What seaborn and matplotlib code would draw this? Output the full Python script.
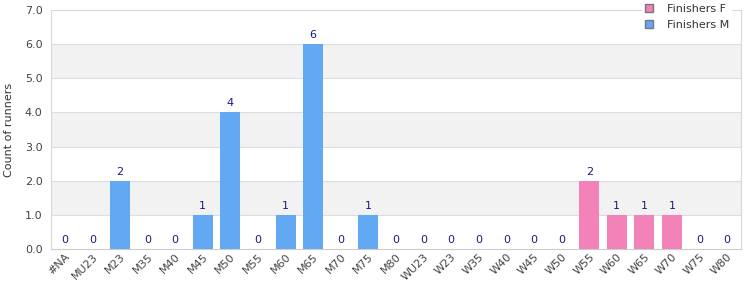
import matplotlib
matplotlib.use("Agg")
import matplotlib.pyplot as plt
import seaborn as sns
import pandas as pd
from matplotlib.patches import Patch
from matplotlib.ticker import FormatStrFormatter, MultipleLocator

categories = ["#NA", "MU23", "M23", "M35", "M40", "M45", "M50", "M55", "M60", "M65",
              "M70", "M75", "M80", "WU23", "W23", "W35", "W40", "W45", "W50", "W55",
              "W60", "W65", "W70", "W75", "W80"]
values = [0, 0, 2, 0, 0, 1, 4, 0, 1, 6, 0, 1, 0, 0, 0, 0, 0, 0, 0, 2, 1, 1, 1, 0, 0]
series = ["Finishers M"] * 19 + ["Finishers F"] * 6

blue = "#62a8f2"
pink = "#f282b8"
label_color = "#1a1a80"

df = pd.DataFrame({"cat": categories, "count": values, "series": series})

sns.set_style("white")
plt.rcParams['font.family'] = ['DejaVu Sans']

fig = plt.figure(figsize=(7.5, 3), dpi=100)
ax = fig.add_axes([0.068, 0.17, 0.92, 0.797])

# alternating bands
for i in range(7):
    if i % 2 == 1:
        ax.axhspan(i, i + 1, color="#f2f2f2", zorder=0, lw=0)
for y in range(1, 7):
    ax.axhline(y, color="#dddddd", lw=0.8, zorder=0.5)

sns.barplot(data=df, x="cat", y="count", hue="series", dodge=False, width=0.72,
            palette={"Finishers M": blue, "Finishers F": pink}, ax=ax,
            order=categories, legend=False, saturation=1, zorder=2,
            linewidth=0, edgecolor="none")

for i, v in enumerate(values):
    ax.text(i, v + 0.12, str(v), ha="center", va="bottom", fontsize=8,
            color=label_color, zorder=3)

ax.set_ylim(0, 7)
ax.set_xlim(-0.5, len(categories) - 0.5)
ax.yaxis.set_major_locator(MultipleLocator(1))
ax.yaxis.set_major_formatter(FormatStrFormatter("%.1f"))
ax.set_xlabel("")
ax.set_ylabel("Count of runners", fontsize=8, color="#333333", labelpad=8)
ax.tick_params(axis="y", labelsize=8, colors="#444444", length=0, pad=6)
ax.tick_params(axis="x", labelsize=8, colors="#444444", length=0, pad=2)
plt.setp(ax.get_xticklabels(), rotation=45, ha="right", rotation_mode="anchor")

for s in ax.spines.values():
    s.set_color("#d8d8d8")
    s.set_linewidth(0.8)
ax.spines["bottom"].set_color("#cccccc")

handles = [Patch(facecolor=pink, edgecolor="#777777", label="Finishers F"),
           Patch(facecolor=blue, edgecolor="#777777", label="Finishers M")]
leg = fig.legend(handles=handles, loc="upper right", bbox_to_anchor=(0.975, 0.995),
                 fontsize=8, frameon=True, handlelength=0.8, handleheight=0.8,
                 labelspacing=0.55, handletextpad=1.2, borderpad=0.2, borderaxespad=0)
leg.get_frame().set_facecolor("white")
leg.get_frame().set_edgecolor("white")
leg.get_frame().set_alpha(1)
for t in leg.get_texts():
    t.set_color("#333333")

fig.savefig("out.png", dpi=100)
